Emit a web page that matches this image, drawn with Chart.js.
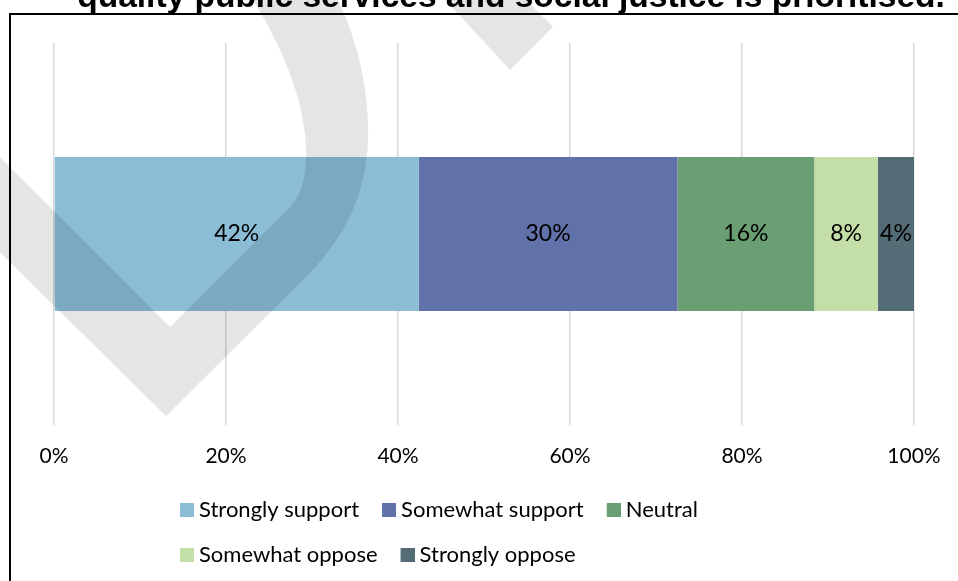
<!DOCTYPE html>
<html><head><meta charset="utf-8">
<script src="https://cdn.jsdelivr.net/npm/chart.js@4.4.0/dist/chart.umd.min.js"></script>
<style>
html,body{margin:0;padding:0;background:#fff;width:958px;height:581px;overflow:hidden;position:relative}
#c{position:absolute;left:0;top:-22px}
</style></head><body>
<canvas id="c" width="1022" height="603"></canvas>
<script>
// ---- data ----
const titleText = 'quality public services and social justice is prioritised.';
const categories = [''];
const seriesNames = ['Strongly support', 'Somewhat support', 'Neutral', 'Somewhat oppose', 'Strongly oppose'];
const stronglySupport = [42.4];
const somewhatSupport = [30.1];
const neutral = [15.9];
const somewhatOppose = [7.4];
const stronglyOppose = [4.2];
const dataLabels = ['42%', '30%', '16%', '8%', '4%'];
const tickLabels = ['0%', '20%', '40%', '60%', '80%', '100%'];

// ---- layout constants (viewport offset of the canvas) ----
const OFF = 22;
const W = 1022;

const colors = ['#8CBDD6', '#6171AA', '#6A9F74', '#C4DEA8', '#546C75'];
const seriesValues = [stronglySupport, somewhatSupport, neutral, somewhatOppose, stronglyOppose];

// legend swatches: 14px square, drawn so that the text sits 5px after it
function makeSwatch(color) {
  const cv = document.createElement('canvas');
  cv.width = 20; cv.height = 14;
  const g = cv.getContext('2d');
  g.fillStyle = color;
  g.fillRect(6, 0, 14, 14);
  return cv;
}
const swatches = colors.map(makeSwatch);

const barLabels = {
  id: 'barLabels',
  afterDatasetsDraw(chart) {
    const ctx = chart.ctx;
    ctx.save();
    ctx.font = '23px Lato';
    ctx.fillStyle = '#000';
    ctx.textAlign = 'center';
    ctx.textBaseline = 'middle';
    chart.data.datasets.forEach((ds, i) => {
      const meta = chart.getDatasetMeta(i);
      meta.data.forEach((el) => {
        const p = el.getProps(['x', 'y', 'base'], true);
        ctx.fillText(dataLabels[i], (p.x + p.base) / 2, p.y);
      });
    });
    ctx.restore();
  }
};

const legendPlace = {
  id: 'legendPlace',
  beforeDraw(chart) {
    const lg = chart.legend;
    const pad = lg.options.labels.padding;
    lg.left = 180 - pad;
    lg.right = 800;
    lg.width = lg.right - lg.left;
  }
};

const frameAndMark = {
  id: 'frameAndMark',
  afterDraw(chart) {
    const ctx = chart.ctx;
    ctx.save();
    ctx.translate(0, OFF);
    // chart object covers the lower part of the heading
    ctx.fillStyle = '#fff';
    ctx.fillRect(11, 14, W, 28);
    ctx.strokeStyle = '#000';
    ctx.lineWidth = 2;
    ctx.beginPath();
    ctx.moveTo(10, 700);
    ctx.lineTo(10, 14);
    ctx.lineTo(W + 20, 14);
    ctx.stroke();
    // faint "DRAFT" watermark
    ctx.fillStyle = 'rgba(0,0,0,0.1)';
    ctx.beginPath();
    ctx.moveTo(-40, 117);
    ctx.lineTo(170, 327);
    ctx.lineTo(292, 205);
    ctx.bezierCurveTo(305, 190, 308, 162, 305, 135);
    ctx.bezierCurveTo(301, 95, 284, 48, 244, -15);
    ctx.lineTo(330, -15);
    ctx.bezierCurveTo(356, 30, 370, 90, 368, 140);
    ctx.bezierCurveTo(366, 195, 345, 240, 300, 283);
    ctx.lineTo(166, 416);
    ctx.lineTo(-40, 213);
    ctx.closePath();
    ctx.fill();
    ctx.beginPath();
    ctx.moveTo(436, -10);
    ctx.lineTo(510, 70);
    ctx.lineTo(553, 27);
    ctx.lineTo(516, -10);
    ctx.closePath();
    ctx.fill();
    ctx.restore();
  }
};

function draw() {
  new Chart(document.getElementById('c'), {
    type: 'bar',
    data: {
      labels: categories,
      datasets: seriesNames.map((name, i) => ({
        label: name,
        data: seriesValues[i],
        backgroundColor: colors[i],
        borderWidth: 0,
        categoryPercentage: 1,
        barPercentage: 0.403
      }))
    },
    options: {
      indexAxis: 'y',
      responsive: false,
      animation: false,
      devicePixelRatio: 1,
      layout: { padding: { top: 0, bottom: 5, left: 0, right: 0 } },
      plugins: {
        title: {
          display: true,
          text: titleText,
          color: '#000',
          font: { family: "'Liberation Sans', Arial, sans-serif", size: 33.5, weight: 'bold', lineHeight: 1.2 },
          padding: { top: 0, bottom: 24.8 }
        },
        legend: {
          position: 'bottom',
          fullSize: false,
          align: 'start',
          labels: {
            color: '#000',
            font: { family: 'Lato', size: 22 },
            usePointStyle: true,
            pointStyleWidth: 8,
            boxWidth: 14,
            boxHeight: 14,
            padding: 23,
            generateLabels(chart) {
              const items = Chart.defaults.plugins.legend.labels.generateLabels(chart);
              items.forEach((it, i) => { it.pointStyle = swatches[i]; it.lineWidth = 0; });
              return items;
            }
          }
        },
        tooltip: { enabled: false }
      },
      scales: {
        x: {
          stacked: true,
          min: 0,
          max: 100,
          position: 'bottom',
          grid: { color: '#d9d9d9', lineWidth: 1.5, drawTicks: false },
          border: { display: false },
          ticks: {
            stepSize: 20,
            padding: 19,
            color: '#000',
            font: { family: 'Lato', size: 21 },
            callback: (v, i) => tickLabels[i]
          },
          afterFit: (s) => { s.height = 51; }
        },
        y: {
          stacked: true,
          position: 'left',
          grid: { display: false },
          border: { display: false },
          ticks: { display: false },
          afterFit: (s) => { s.width = 54; }
        },
        yRight: {
          axis: 'y',
          type: 'linear',
          position: 'right',
          grid: { display: false },
          border: { display: false },
          ticks: { display: false },
          afterFit: (s) => { s.width = W - 914; }
        }
      }
    },
    plugins: [barLabels, legendPlace, frameAndMark]
  });
}

if (document.fonts && document.fonts.load) {
  Promise.all([
    document.fonts.load('22px Lato'),
    document.fonts.load("bold 33px 'Liberation Sans'")
  ]).then(draw, draw);
} else {
  draw();
}
</script>
</body></html>
